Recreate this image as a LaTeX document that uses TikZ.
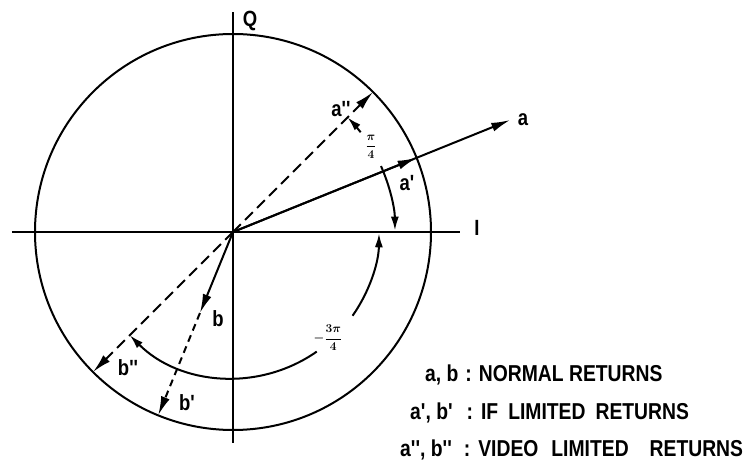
\documentclass[tikz,border=0pt]{standalone}
\usepackage{fontspec}
\setmainfont{Liberation Sans}[Ligatures=TeXOff,FakeStretch=0.84]
\usetikzlibrary{arrows.meta,calc}
\begin{document}
\begin{tikzpicture}[x=1pt,y=1pt,
  ln/.style={line width=2pt},
  axis/.style={line width=1.6pt},
  bigtip/.style={-{Latex[length=19pt,width=9pt]}},
  arcend/.style={-{Latex[length=14pt,width=8pt]}},
  arcstart/.style={{Latex[length=14pt,width=8pt]}-},
  longdash/.style={dash pattern=on 11pt off 6pt},
  shortdash/.style={dash pattern=on 7pt off 5pt},
  lab/.style={font=\fontsize{22}{26}\selectfont\bfseries, inner sep=0pt},
  frac/.style={font=\fontsize{12.5}{15}\selectfont\boldmath, inner sep=0pt},
  legend/.style={font=\fontsize{23}{27}\selectfont\bfseries, inner sep=0pt, anchor=base west},
]
\useasboundingbox (-233,-236) rectangle (514,232);
\coordinate (O) at (0,0);
\coordinate (Iw) at (-221,0);
\coordinate (Ie) at (227,0);
\coordinate (Qn) at (0,220);
\coordinate (Qs) at (0,-211);
\coordinate (A) at (22:299);
\coordinate (A1) at (22:198);
\coordinate (A2) at (45:198);
\coordinate (B) at (-112.2:87.5);
\coordinate (B1) at (-112.2:198);
\coordinate (B2) at (-135:198);

% circle and axes
\draw[ln] (O) circle[radius=198];
\draw[axis] (Iw) -- (Ie);
\draw[axis] (Qs) -- (Qn);

% vectors
\draw[ln,bigtip] (O) -- (A);
\draw[ln,bigtip] (O) -- (A1);
\draw[ln,longdash,bigtip] (O) -- (A2);
\draw[ln,bigtip] (O) -- (B);
\draw[ln,shortdash,bigtip] (B) -- (B1);
\draw[ln,longdash,bigtip] (O) -- (B2);

% angle arcs
\draw[ln,arcstart] ($(O)+(45:162)$) arc[start angle=45,end angle=38,radius=162];
\draw[ln,arcend] ($(O)+(24:162)$) arc[start angle=24,end angle=0.5,radius=162];
\draw[ln,arcstart] ($(O)+(-0.5:146)$) arc[start angle=-0.5,end angle=-35,radius=146];
\draw[ln,arcend] ($(O)+(-55:146)$) arc[start angle=-55,end angle=-135,radius=146];

% labels
\node[lab] (q) at (17,211) {Q};
\node[lab] (i) at (244,4) {I};
\node[lab] (la) at (290,112) {a};
\node[lab] (la1) at (174,49) {a'};
\node[lab] (la2) at (108,123) {a''};
\node[lab] (lb) at (-15,-87) {b};
\node[lab] (lb1) at (-46,-171) {b'};
\node[lab] (lb2) at (-105,-136) {b''};
\node[frac] (p4) at (138,85) {$\displaystyle\frac{\pi}{4}$};
\node[frac] (p34) at (95,-106) {$\displaystyle-\frac{3\pi}{4}$};

% legend
\node[legend] (l1) at (192,-150) {a, b\hspace{7pt}:\hspace{7pt}NORMAL RETURNS};
\node[legend] (l2) at (177,-188) {a', b'\hspace{14pt}:\hspace{8pt}IF\hspace{10pt}LIMITED\hspace{10pt}RETURNS};
\node[legend] (l3) at (167,-224) {a'', b''\hspace{12pt}:\hspace{8pt}VIDEO\hspace{13pt}LIMITED\hspace{21pt}RETURNS};
\end{tikzpicture}
\end{document}
